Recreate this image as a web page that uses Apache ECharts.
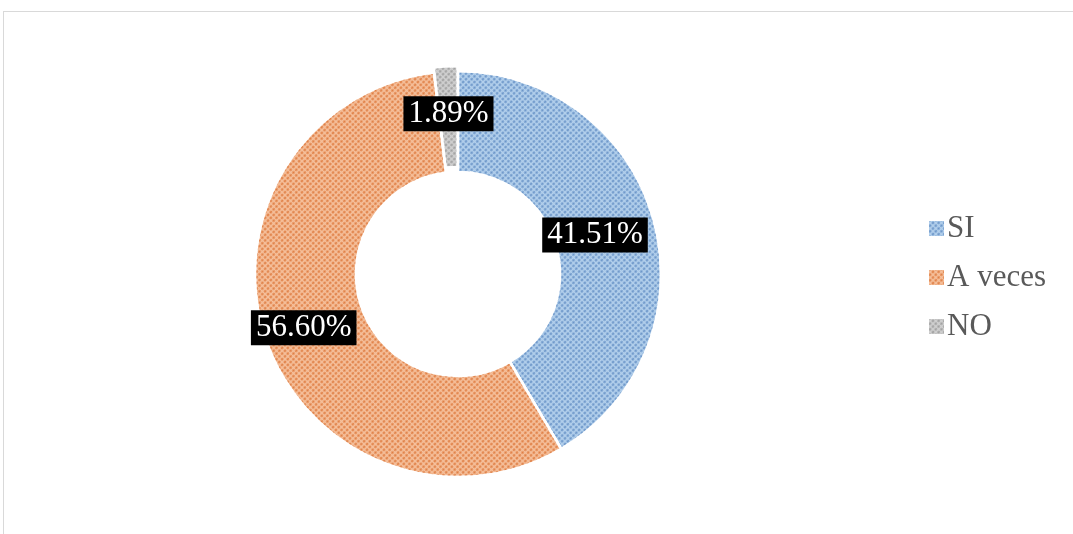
<!DOCTYPE html>
<html>
<head>
<meta charset="utf-8">
<script src="https://cdn.jsdelivr.net/npm/echarts@6/dist/echarts.min.js"></script>
<style>
html, body { margin: 0; padding: 0; background: #fff; overflow: hidden; }
#frame { position: absolute; left: 3px; top: 11px; width: 1200px; height: 700px; border: 1px solid #d9d9d9; }
#chart { position: absolute; left: 0; top: 0; width: 1073px; height: 534px; }
</style>
</head>
<body>
<div id="frame"></div>
<div id="chart"></div>
<script>
// datos de la encuesta
const categorias = ['SI', 'A veces', 'NO']
const porcentajes = [41.51, 56.60, 1.89]
const colores = ['#b3d0ec', '#f5c09c', '#d0d0d0']
const coloresTrama = ['#6b95c8', '#df7f45', '#a0a0a0']

const chart = echarts.init(document.getElementById('chart'))

// desplazamiento de etiquetas para acercarlas a las del original
const desplaz = [[-13, 2], [-7, 4], [-8, 7]]

const datos = categorias.map((nombre, i) => ({
  name: nombre,
  value: porcentajes[i],
  selected: nombre === 'NO', // porción separada
  label: { offset: desplaz[i] },
  itemStyle: {
    color: colores[i],
    decal: {
      symbol: 'circle',
      symbolSize: 0.9,
      dashArrayX: [[3, 1]],
      dashArrayY: [3, 1],
      rotation: -Math.PI / 4,
      color: coloresTrama[i]
    }
  }
}))

chart.setOption({
  animation: false,
  legend: {
    orient: 'vertical',
    left: 922,
    top: 208,
    itemWidth: 17,
    itemHeight: 17,
    itemGap: 18,
    icon: 'rect',
    data: categorias,
    textStyle: {
      fontFamily: 'Liberation Serif, Times New Roman, serif',
      fontSize: 31,
      color: '#595959',
      padding: [0, 0, 0, -3]
    }
  },
  series: [{
    type: 'pie',
    center: [458, 274],
    radius: [102, 203],
    startAngle: 90,
    clockwise: true,
    selectedMode: 'single',
    selectedOffset: 5,
    itemStyle: {
      borderColor: '#fff',
      borderWidth: 2.5
    },
    label: {
      show: true,
      position: 'inside',
      formatter: p => p.value.toFixed(2) + '%',
      fontFamily: 'Liberation Serif, Times New Roman, serif',
      fontSize: 31,
      color: '#fff',
      backgroundColor: '#000',
      padding: [3, 5, 1, 5]
    },
    labelLine: { show: false },
    emphasis: { disabled: true },
    data: datos
  }]
})
</script>
</body>
</html>
